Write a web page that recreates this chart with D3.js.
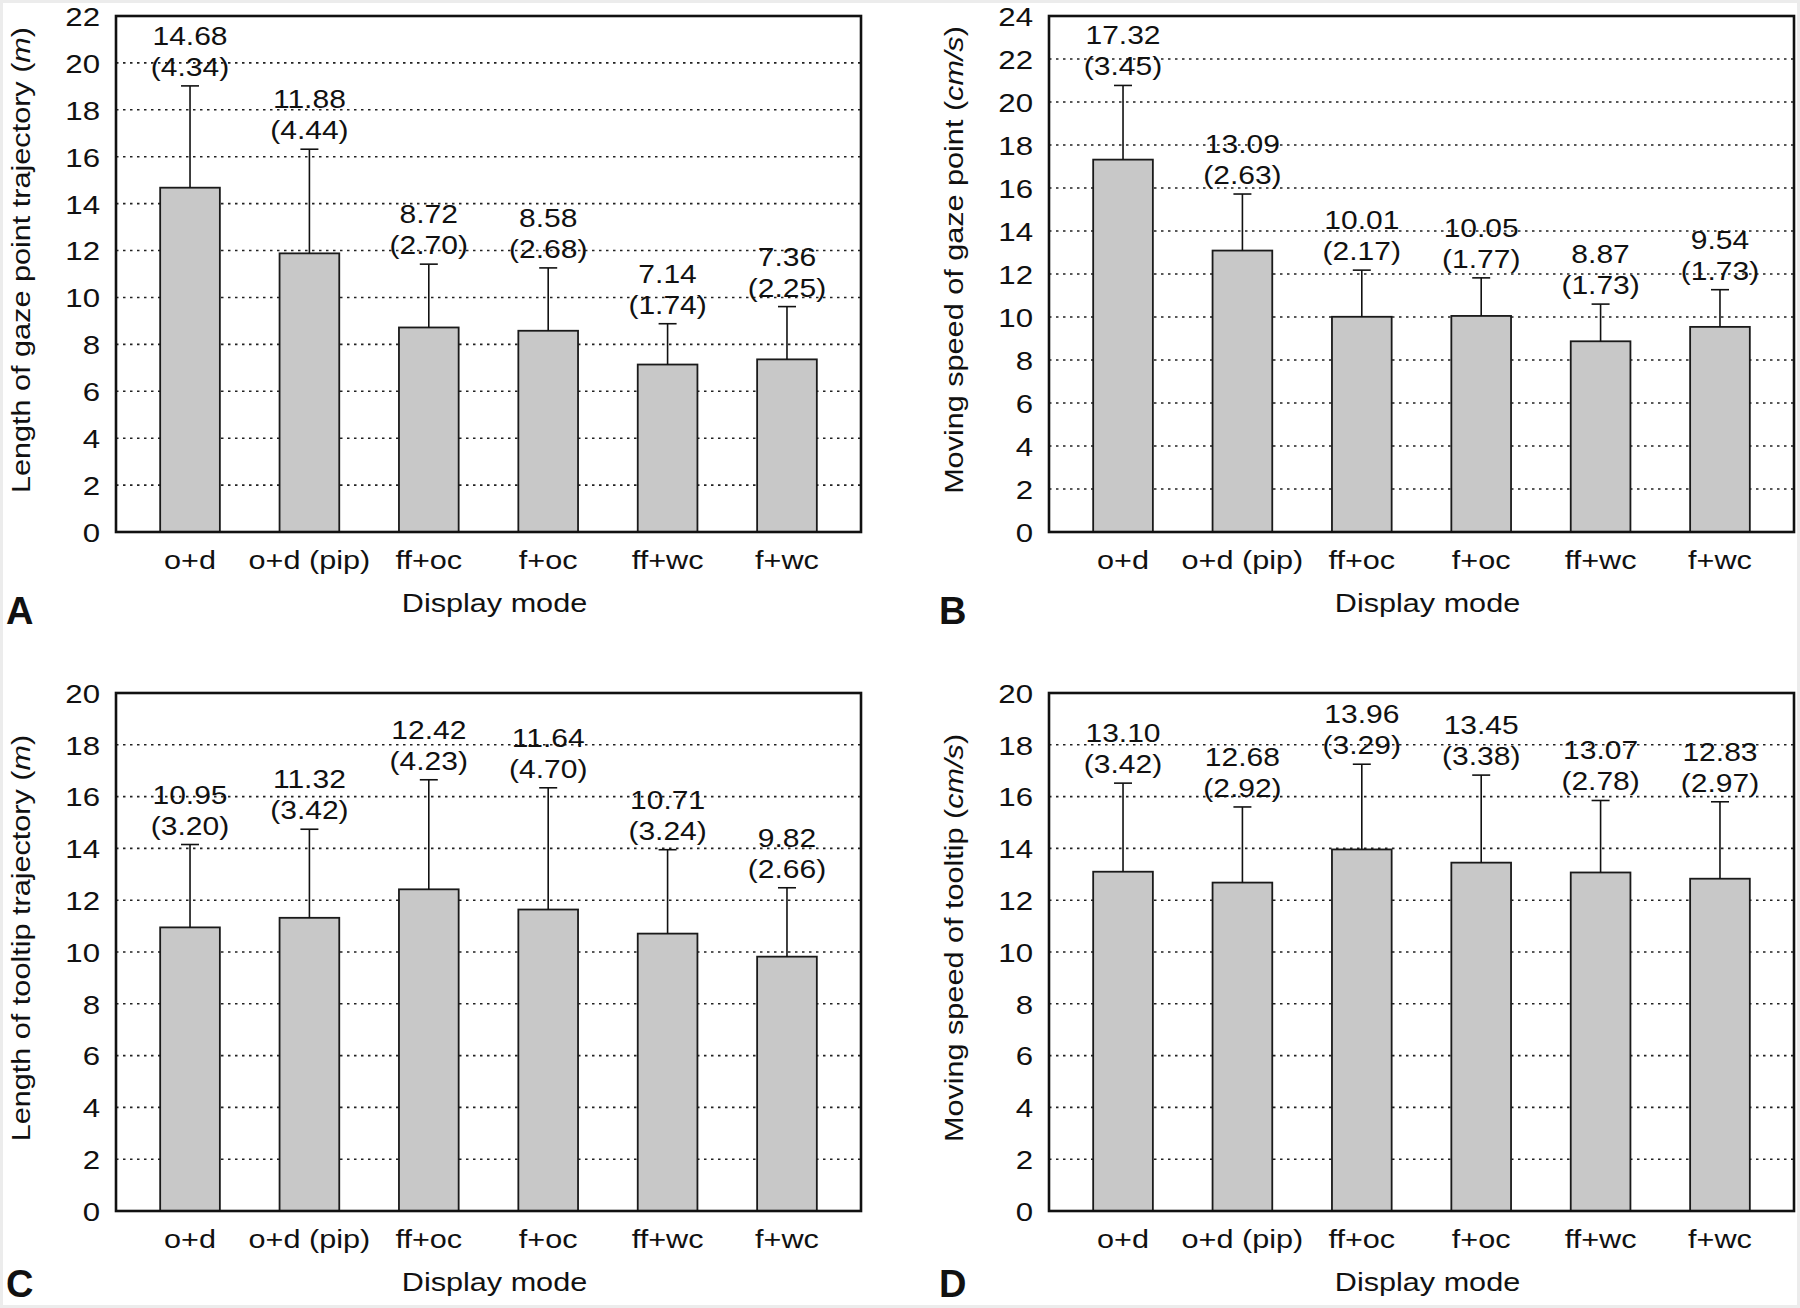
<!DOCTYPE html>
<html>
<head>
<meta charset="utf-8">
<script src="https://cdn.jsdelivr.net/npm/d3@7"></script>
<style>
  html, body { margin: 0; padding: 0; background: #fff; }
  svg { display: block; }
  text { font-family: "Liberation Sans", Arial, sans-serif; fill: #111; }
</style>
</head>
<body>
<svg id="chart" width="1800" height="1308"></svg>
<script>
// categories shared by all four panels
const modes = ["o+d", "o+d (pip)", "ff+oc", "f+oc", "ff+wc", "f+wc"];

// A: length of gaze point trajectory (m)
const gazeLengthMean = [14.68, 11.88, 8.72, 8.58, 7.14, 7.36];
const gazeLengthSD   = [4.34, 4.44, 2.70, 2.68, 1.74, 2.25];
// B: moving speed of gaze point (cm/s)
const gazeSpeedMean = [17.32, 13.09, 10.01, 10.05, 8.87, 9.54];
const gazeSpeedSD   = [3.45, 2.63, 2.17, 1.77, 1.73, 1.73];
// C: length of tooltip trajectory (m)
const tipLengthMean = [10.95, 11.32, 12.42, 11.64, 10.71, 9.82];
const tipLengthSD   = [3.20, 3.42, 4.23, 4.70, 3.24, 2.66];
// D: moving speed of tooltip (cm/s)
const tipSpeedMean = [13.10, 12.68, 13.96, 13.45, 13.07, 12.83];
const tipSpeedSD   = [3.42, 2.92, 3.29, 3.38, 2.78, 2.97];

const yMaxA = 22, yMaxB = 24, yMaxC = 20, yMaxD = 20;

const panels = [
  {letter: "A", mean: gazeLengthMean, sd: gazeLengthSD, yMax: yMaxA,
   title: ["Length of gaze point trajectory (", "m", ")"], left: 116, top: 16, bottom: 532, letterY: 624},
  {letter: "B", mean: gazeSpeedMean, sd: gazeSpeedSD, yMax: yMaxB,
   title: ["Moving speed of gaze point (", "cm/s", ")"], left: 1049, top: 16, bottom: 532, letterY: 624},
  {letter: "C", mean: tipLengthMean, sd: tipLengthSD, yMax: yMaxC,
   title: ["Length of tooltip trajectory (", "m", ")"], left: 116, top: 693, bottom: 1211, letterY: 1297},
  {letter: "D", mean: tipSpeedMean, sd: tipSpeedSD, yMax: yMaxD,
   title: ["Moving speed of tooltip (", "cm/s", ")"], left: 1049, top: 693, bottom: 1211, letterY: 1297}
];

const plotW = 745;
const widen = 1.2;   // the source lettering is wider than Arial

const svg = d3.select("#chart");

svg.append("rect")
  .attr("x", 0).attr("y", 0).attr("width", 1800).attr("height", 1308)
  .attr("fill", "#fff").attr("stroke", "#ececec").attr("stroke-width", 6);

function stretch(sel, k) {
  sel.each(function() {
    const w = this.getComputedTextLength();
    d3.select(this)
      .attr("textLength", w * k)
      .attr("lengthAdjust", "spacingAndGlyphs");
  });
}

function drawPanel(p) {
  const x = d3.scaleBand()
    .domain(modes)
    .range([p.left, p.left + plotW])
    .paddingInner(0.5)
    .paddingOuter(0.37);

  const y = d3.scaleLinear()
    .domain([0, p.yMax])
    .range([p.bottom, p.top]);

  const ticks = d3.range(0, p.yMax + 1, 2);
  const g = svg.append("g");

  // dotted grid
  g.append("g")
    .selectAll("line")
    .data(ticks.filter(t => t > 0 && t < p.yMax))
    .join("line")
      .attr("x1", p.left)
      .attr("x2", p.left + plotW)
      .attr("y1", d => y(d))
      .attr("y2", d => y(d))
      .attr("stroke", "#222")
      .attr("stroke-width", 1.6)
      .attr("stroke-dasharray", "2.5,4.5");

  const rows = modes.map((m, i) => ({mode: m, mean: p.mean[i], sd: p.sd[i]}));

  // bars
  g.append("g")
    .selectAll("rect")
    .data(rows)
    .join("rect")
      .attr("x", d => x(d.mode))
      .attr("width", x.bandwidth())
      .attr("y", d => y(d.mean))
      .attr("height", d => y(0) - y(d.mean))
      .attr("fill", "#c8c8c8")
      .attr("stroke", "#1a1a1a")
      .attr("stroke-width", 1.8);

  // error bars (upper only)
  const err = g.append("g")
    .selectAll("g")
    .data(rows)
    .join("g")
      .attr("stroke", "#111")
      .attr("stroke-width", 1.6);

  err.append("line")
    .attr("x1", d => x(d.mode) + x.bandwidth() / 2)
    .attr("x2", d => x(d.mode) + x.bandwidth() / 2)
    .attr("y1", d => y(d.mean))
    .attr("y2", d => y(d.mean + d.sd));

  err.append("line")
    .attr("x1", d => x(d.mode) + x.bandwidth() / 2 - 9)
    .attr("x2", d => x(d.mode) + x.bandwidth() / 2 + 9)
    .attr("y1", d => y(d.mean + d.sd))
    .attr("y2", d => y(d.mean + d.sd));

  // value labels: mean and (sd)
  const lab = g.append("g")
    .selectAll("text")
    .data(rows)
    .join("text")
      .attr("text-anchor", "middle")
      .attr("font-size", 25)
      .attr("x", d => x(d.mode) + x.bandwidth() / 2)
      .attr("y", d => y(d.mean + d.sd) - 41)
      .text(d => d.mean.toFixed(2));
  stretch(lab, widen);

  const lab2 = g.append("g")
    .selectAll("text")
    .data(rows)
    .join("text")
      .attr("text-anchor", "middle")
      .attr("font-size", 25)
      .attr("x", d => x(d.mode) + x.bandwidth() / 2)
      .attr("y", d => y(d.mean + d.sd) - 10)
      .text(d => `(${d.sd.toFixed(2)})`);
  stretch(lab2, widen);

  // frame
  g.append("rect")
    .attr("x", p.left)
    .attr("y", p.top)
    .attr("width", plotW)
    .attr("height", p.bottom - p.top)
    .attr("fill", "none")
    .attr("stroke", "#111")
    .attr("stroke-width", 2.6);

  // y axis
  const yAxis = g.append("g")
    .attr("transform", `translate(${p.left},0)`)
    .call(d3.axisLeft(y).tickValues(ticks).tickSize(0).tickPadding(16));
  yAxis.select(".domain").remove();
  yAxis.selectAll("text")
    .attr("font-size", 26)
    .attr("font-family", null)
    .attr("fill", "#111")
    .attr("dy", "0.36em");
  stretch(yAxis.selectAll("text"), widen);

  // x axis
  const xAxis = g.append("g")
    .attr("transform", `translate(0,${p.bottom})`)
    .call(d3.axisBottom(x).tickSize(0));
  xAxis.select(".domain").remove();
  xAxis.selectAll("text")
    .attr("font-size", 25.5)
    .attr("font-family", null)
    .attr("fill", "#111")
    .attr("y", 37)
    .attr("dy", null);
  stretch(xAxis.selectAll("text"), widen);

  // x title
  const xt = g.append("text")
    .attr("text-anchor", "middle")
    .attr("font-size", 25.5)
    .attr("x", p.left + plotW / 2 + 6)
    .attr("y", p.bottom + 80)
    .text("Display mode");
  stretch(xt, widen);

  // y title
  const cy = (p.top + p.bottom) / 2 - 14;
  const yt = g.append("text")
    .attr("text-anchor", "middle")
    .attr("font-size", 25.5)
    .attr("transform", `translate(${p.left - 86},${cy}) rotate(-90)`);
  yt.append("tspan").text(p.title[0]);
  yt.append("tspan").attr("font-style", "italic").text(p.title[1]);
  yt.append("tspan").text(p.title[2]);
  stretch(yt, widen);

  // panel letter
  g.append("text")
    .attr("x", p.left - 110)
    .attr("y", p.letterY)
    .attr("font-size", 38)
    .attr("font-weight", "bold")
    .text(p.letter);
}

panels.forEach(drawPanel);
</script>
</body>
</html>
